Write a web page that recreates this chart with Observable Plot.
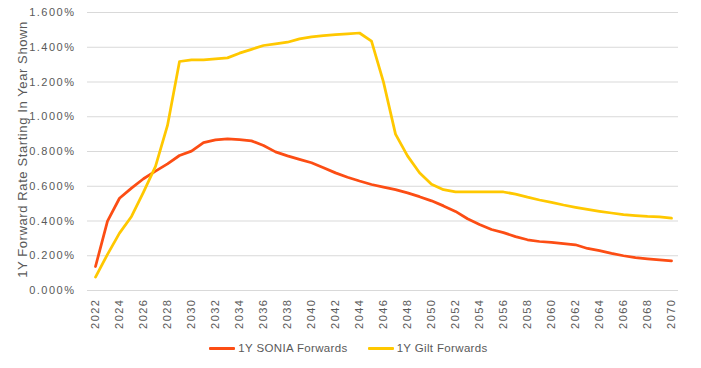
<!DOCTYPE html>
<html>
<head>
<meta charset="utf-8">
<script src="https://cdn.jsdelivr.net/npm/d3@7"></script>
<script src="https://cdn.jsdelivr.net/npm/@observablehq/plot@0.6"></script>
<style>
  html, body { margin: 0; padding: 0; background: #fff; }
  #chart { width: 701px; }
  .legend { display: flex; justify-content: center; align-items: center; height: 24px;
    font-family: "Liberation Sans", Arial, sans-serif; font-size: 11.5px; letter-spacing: 0.35px; color: #595959; padding-right: 4px; }
  .item { display: flex; align-items: center; margin: 0 10px; }
  .sw { width: 26px; height: 3px; margin-right: 3px; border-radius: 1px; }
</style>
</head>
<body>
<div id="chart"></div>
<script>
const years = d3.range(2022, 2071);
const sonia = [0.138, 0.399, 0.531, 0.589, 0.643, 0.687, 0.729, 0.777, 0.802, 0.851,
  0.867, 0.873, 0.868, 0.861, 0.835, 0.798, 0.775, 0.755, 0.735, 0.707,
  0.677, 0.652, 0.630, 0.610, 0.595, 0.581, 0.562, 0.540, 0.516, 0.487,
  0.455, 0.413, 0.380, 0.351, 0.333, 0.310, 0.292, 0.282, 0.277, 0.270,
  0.263, 0.242, 0.230, 0.214, 0.200, 0.189, 0.182, 0.176, 0.171];
const gilt = [0.077, 0.208, 0.330, 0.426, 0.566, 0.714, 0.950, 1.318, 1.327, 1.327,
  1.333, 1.339, 1.366, 1.388, 1.410, 1.420, 1.429, 1.448, 1.460, 1.467,
  1.472, 1.477, 1.482, 1.435, 1.199, 0.900, 0.775, 0.678, 0.612, 0.580,
  0.568, 0.567, 0.567, 0.567, 0.567, 0.555, 0.537, 0.521, 0.507, 0.492,
  0.479, 0.467, 0.456, 0.446, 0.437, 0.431, 0.426, 0.424, 0.416];
const seriesNames = ["1Y SONIA Forwards", "1Y Gilt Forwards"];
const seriesColors = ["#FC4D14", "#FFC800"];
const yTicks = d3.range(0, 1.61, 0.2);
const xTicks = years.filter(y => y % 2 === 0);
const yTitle = "1Y Forward Rate Starting In Year Shown";

const rows = [];
years.forEach((yr, i) => {
  rows.push({year: yr, value: sonia[i], series: seriesNames[0]});
  rows.push({year: yr, value: gilt[i], series: seriesNames[1]});
});

const chart = Plot.plot({
  width: 701,
  height: 336,
  marginTop: 12,
  marginBottom: 46,
  marginLeft: 87,
  marginRight: 23,
  style: {fontFamily: "'Liberation Sans', Arial, sans-serif", fontSize: "11px", color: "#595959", letterSpacing: "1.5px"},
  x: {type: "point", domain: years, padding: 0.5},
  y: {domain: [0, 1.6]},
  color: {domain: seriesNames, range: seriesColors},
  marks: [
    Plot.gridY(yTicks, {stroke: "#d9d9d9", strokeOpacity: 1, strokeWidth: 1}),
    Plot.axisY(yTicks, {tickSize: 0, tickPadding: 12, tickFormat: d => d.toFixed(3) + "%", fontSize: 11,
      label: null, fill: "#595959"}),
    Plot.axisX(xTicks, {tickSize: 0, tickPadding: 8, tickRotate: -90, tickFormat: d => String(d), fontSize: 11,
      label: null, fill: "#595959"}),
    Plot.text([yTitle], {text: d => d, frameAnchor: "left", rotate: -90, dx: -65, dy: -2,
      fontSize: 13, fill: "#595959", textAnchor: "middle", lineAnchor: "middle"}),
    Plot.line(rows, {x: "year", y: "value", z: "series", stroke: "series", strokeWidth: 2.75,
      strokeLinejoin: "round", strokeLinecap: "round", curve: "linear"})
  ]
});
// title spacing is tighter than the tick labels
chart.querySelectorAll("text").forEach(t => {
  if (t.textContent === yTitle) t.style.letterSpacing = "0.6px";
});
document.getElementById("chart").appendChild(chart);

const legend = document.createElement("div");
legend.className = "legend";
seriesNames.forEach((n, i) => {
  const it = document.createElement("div");
  it.className = "item";
  const sw = document.createElement("div");
  sw.className = "sw";
  sw.style.background = seriesColors[i];
  const t = document.createElement("span");
  t.textContent = n;
  it.appendChild(sw); it.appendChild(t);
  legend.appendChild(it);
});
document.getElementById("chart").appendChild(legend);
</script>
</body>
</html>
